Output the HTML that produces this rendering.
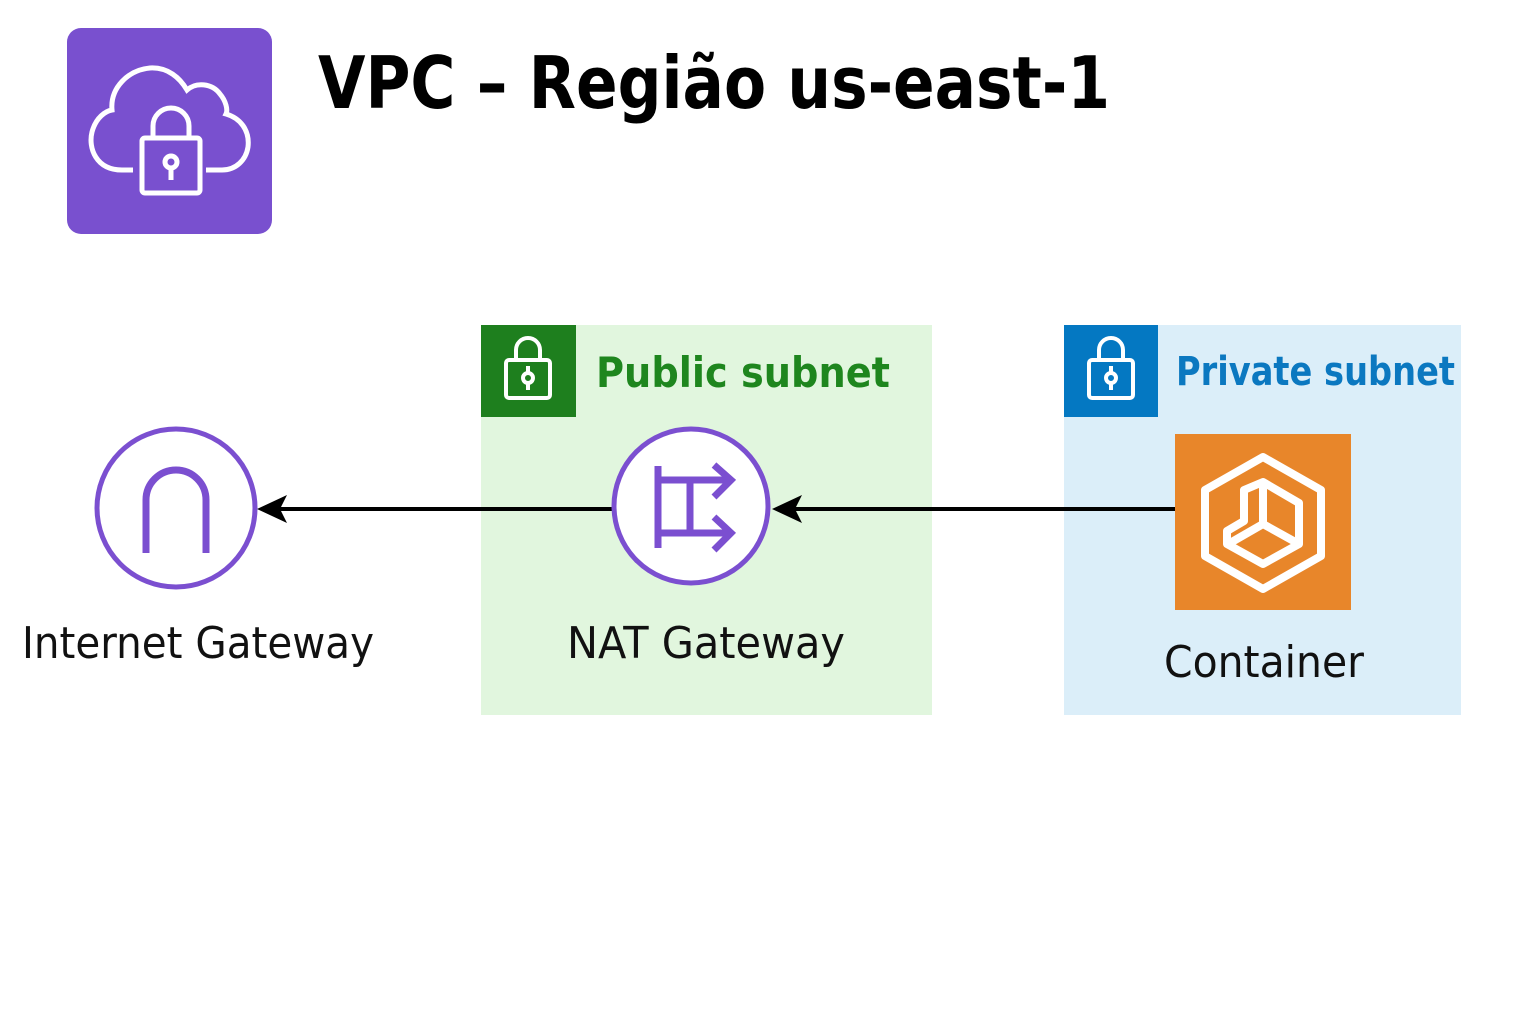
<!DOCTYPE html>
<html><head><meta charset="utf-8"><style>
html,body{margin:0;padding:0;background:#fff;width:1536px;height:1024px;overflow:hidden}
svg{display:block}
text{font-family:"DejaVu Sans","Liberation Sans",sans-serif}
</style></head><body>
<svg width="1536" height="1024" viewBox="0 0 1536 1024" xmlns="http://www.w3.org/2000/svg">
<defs>
<g id="lock" fill="none" stroke="#fff" stroke-width="4">
<path d="M-12,-8 v-10 a12,12 0 0 1 24,0 v10"/>
<rect x="-22" y="-8" width="44" height="38" rx="3"/>
<circle cx="0" cy="10" r="5"/><line x1="0" y1="15" x2="0" y2="22"/><line x1="0" y1="-2" x2="0" y2="5"/>
</g>
</defs>
<!-- VPC icon -->
<rect x="67" y="28" width="205" height="206" rx="14" fill="#7950cf"/>
<path d="M133,170 H122 C96,170 88,148 92,132 C96,117 106,111 112,110 C110,88 128,70 150,68 C168,67 180,78 187,90 C196,82 212,83 220,94 C226,101 228,110 226,114 C240,118 250,130 248,147 C246,160 236,170 222,170 H206" fill="none" stroke="#fff" stroke-width="5"/>
<g fill="none" stroke="#fff" stroke-width="5">
<path d="M153,138 v-12 a18,18 0 0 1 36,0 v12"/>
<rect x="142" y="138" width="58" height="55" rx="3"/>
<circle cx="171" cy="162" r="6"/><line x1="171" y1="168" x2="171" y2="180"/>
</g>
<text x="318" y="108" font-size="72" font-weight="bold" fill="#000" textLength="792" lengthAdjust="spacingAndGlyphs">VPC – Região us-east-1</text>
<!-- Public subnet -->
<rect x="481" y="325" width="451" height="390" fill="#e1f6de"/>
<rect x="481" y="325" width="95" height="92" fill="#1e7f1e"/>
<use href="#lock" x="528" y="368"/>
<text x="596" y="387" font-size="42" font-weight="bold" fill="#1e861e" textLength="294" lengthAdjust="spacingAndGlyphs">Public subnet</text>
<!-- Private subnet -->
<rect x="1064" y="325" width="397" height="390" fill="#dbeef9"/>
<rect x="1064" y="325" width="94" height="92" fill="#0478c2"/>
<use href="#lock" x="1111" y="368"/>
<text x="1176" y="385" font-size="40" font-weight="bold" fill="#0b78c0" textLength="279" lengthAdjust="spacingAndGlyphs">Private subnet</text>
<!-- arrows -->
<line x1="1176" y1="509" x2="790" y2="509" stroke="#000" stroke-width="4"/>
<polygon points="772,509 802,495 795,509 802,523" fill="#000"/>
<line x1="613" y1="509" x2="275" y2="509" stroke="#000" stroke-width="4"/>
<polygon points="257,509 287,495 280,509 287,523" fill="#000"/>
<!-- Internet gateway -->
<circle cx="176" cy="508" r="79" fill="#fff" stroke="#7b4fd0" stroke-width="5"/>
<path d="M146,553 V500 a30,30 0 0 1 60,0 V553" fill="none" stroke="#7b4fd0" stroke-width="7"/>
<text x="198" y="658" font-size="44" text-anchor="middle" fill="#111" textLength="352" lengthAdjust="spacingAndGlyphs">Internet Gateway</text>
<!-- NAT gateway -->
<circle cx="691" cy="506" r="77" fill="#fff" stroke="#7b4fd0" stroke-width="5"/>
<g fill="none" stroke="#7b4fd0" stroke-width="7">
<line x1="658" y1="466" x2="658" y2="548"/>
<line x1="658" y1="480" x2="730" y2="480"/>
<line x1="658" y1="533" x2="730" y2="533"/>
<line x1="690" y1="480" x2="690" y2="533"/>
<polyline points="714,465 731,480 714,497"/>
<polyline points="714,517 731,533 714,550"/>
</g>
<text x="706" y="658" font-size="44" text-anchor="middle" fill="#111" textLength="278" lengthAdjust="spacingAndGlyphs">NAT Gateway</text>
<!-- Container -->
<rect x="1175" y="434" width="176" height="176" fill="#e8862a"/>
<g fill="none" stroke="#fff" stroke-width="8" stroke-linejoin="round">
<polygon points="1263,457 1321,490 1321,556 1263,589 1205,556 1205,490"/>
<polygon points="1263,482 1299,503 1299,544 1263,564 1227,544 1227,531 1244,521 1244,490"/>
<polyline points="1263,482 1263,524 1299,544"/>
<line x1="1263" y1="524" x2="1230" y2="543"/>
</g>
<text x="1264" y="677" font-size="44" text-anchor="middle" fill="#111" textLength="200" lengthAdjust="spacingAndGlyphs">Container</text>
</svg>
</body></html>
